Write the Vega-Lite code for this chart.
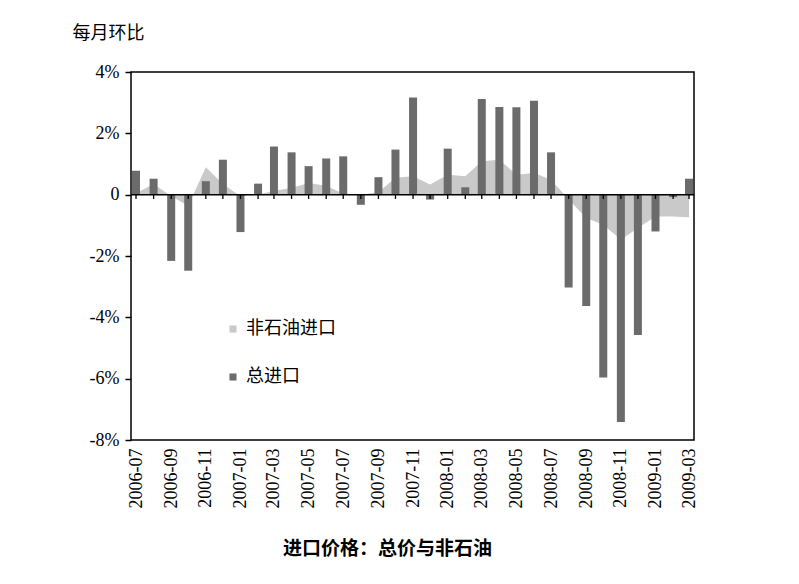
{
  "$schema": "https://vega.github.io/schema/vega-lite/v6.json",
  "width": 563,
  "height": 368,
  "autosize": {"type": "none"},
  "padding": {"left": 131, "top": 72, "right": 105, "bottom": 144},
  "background": "white",
  "view": {"stroke": "black", "strokeWidth": 1.5},
  "data": {
    "values": [
      {"month": "2006-07-01", "series": "总进口", "value": 0.78},
      {"month": "2006-08-01", "series": "总进口", "value": 0.52},
      {"month": "2006-09-01", "series": "总进口", "value": -2.16},
      {"month": "2006-10-01", "series": "总进口", "value": -2.48},
      {"month": "2006-11-01", "series": "总进口", "value": 0.44},
      {"month": "2006-12-01", "series": "总进口", "value": 1.14},
      {"month": "2007-01-01", "series": "总进口", "value": -1.22},
      {"month": "2007-02-01", "series": "总进口", "value": 0.36},
      {"month": "2007-03-01", "series": "总进口", "value": 1.57},
      {"month": "2007-04-01", "series": "总进口", "value": 1.38},
      {"month": "2007-05-01", "series": "总进口", "value": 0.93},
      {"month": "2007-06-01", "series": "总进口", "value": 1.18},
      {"month": "2007-07-01", "series": "总进口", "value": 1.25},
      {"month": "2007-08-01", "series": "总进口", "value": -0.33},
      {"month": "2007-09-01", "series": "总进口", "value": 0.57},
      {"month": "2007-10-01", "series": "总进口", "value": 1.47},
      {"month": "2007-11-01", "series": "总进口", "value": 3.17},
      {"month": "2007-12-01", "series": "总进口", "value": -0.16},
      {"month": "2008-01-01", "series": "总进口", "value": 1.5},
      {"month": "2008-02-01", "series": "总进口", "value": 0.24},
      {"month": "2008-03-01", "series": "总进口", "value": 3.12},
      {"month": "2008-04-01", "series": "总进口", "value": 2.86},
      {"month": "2008-05-01", "series": "总进口", "value": 2.85},
      {"month": "2008-06-01", "series": "总进口", "value": 3.06},
      {"month": "2008-07-01", "series": "总进口", "value": 1.38},
      {"month": "2008-08-01", "series": "总进口", "value": -3.03},
      {"month": "2008-09-01", "series": "总进口", "value": -3.63},
      {"month": "2008-10-01", "series": "总进口", "value": -5.96},
      {"month": "2008-11-01", "series": "总进口", "value": -7.41},
      {"month": "2008-12-01", "series": "总进口", "value": -4.58},
      {"month": "2009-01-01", "series": "总进口", "value": -1.2},
      {"month": "2009-02-01", "series": "总进口", "value": -0.08},
      {"month": "2009-03-01", "series": "总进口", "value": 0.52},
      {"month": "2006-07-01", "series": "非石油进口", "value": 0.05},
      {"month": "2006-08-01", "series": "非石油进口", "value": 0.35},
      {"month": "2006-09-01", "series": "非石油进口", "value": -0.05},
      {"month": "2006-10-01", "series": "非石油进口", "value": -0.36},
      {"month": "2006-11-01", "series": "非石油进口", "value": 0.89},
      {"month": "2006-12-01", "series": "非石油进口", "value": 0.35},
      {"month": "2007-01-01", "series": "非石油进口", "value": -0.05},
      {"month": "2007-02-01", "series": "非石油进口", "value": 0.0},
      {"month": "2007-03-01", "series": "非石油进口", "value": 0.13},
      {"month": "2007-04-01", "series": "非石油进口", "value": 0.22},
      {"month": "2007-05-01", "series": "非石油进口", "value": 0.38},
      {"month": "2007-06-01", "series": "非石油进口", "value": 0.29},
      {"month": "2007-07-01", "series": "非石油进口", "value": 0.03},
      {"month": "2007-08-01", "series": "非石油进口", "value": 0.0},
      {"month": "2007-09-01", "series": "非石油进口", "value": 0.08},
      {"month": "2007-10-01", "series": "非石油进口", "value": 0.55},
      {"month": "2007-11-01", "series": "非石油进口", "value": 0.6},
      {"month": "2007-12-01", "series": "非石油进口", "value": 0.33},
      {"month": "2008-01-01", "series": "非石油进口", "value": 0.65},
      {"month": "2008-02-01", "series": "非石油进口", "value": 0.6},
      {"month": "2008-03-01", "series": "非石油进口", "value": 1.09},
      {"month": "2008-04-01", "series": "非石油进口", "value": 1.14},
      {"month": "2008-05-01", "series": "非石油进口", "value": 0.65},
      {"month": "2008-06-01", "series": "非石油进口", "value": 0.71},
      {"month": "2008-07-01", "series": "非石油进口", "value": 0.49},
      {"month": "2008-08-01", "series": "非石油进口", "value": -0.16},
      {"month": "2008-09-01", "series": "非石油进口", "value": -0.76},
      {"month": "2008-10-01", "series": "非石油进口", "value": -0.98},
      {"month": "2008-11-01", "series": "非石油进口", "value": -1.47},
      {"month": "2008-12-01", "series": "非石油进口", "value": -1.09},
      {"month": "2009-01-01", "series": "非石油进口", "value": -0.71},
      {"month": "2009-02-01", "series": "非石油进口", "value": -0.71},
      {"month": "2009-03-01", "series": "非石油进口", "value": -0.74}
    ]
  },
  "layer": [
    {
      "transform": [{"filter": "datum.series === '非石油进口'"}],
      "mark": {"type": "area", "clip": true},
      "encoding": {
        "x": {
          "field": "month", "type": "temporal",
          "scale": {"type": "utc", "domain": [{"year": 2006, "month": 7, "date": 1, "utc": true}, {"year": 2009, "month": 3, "date": 1, "utc": true}]},
          "axis": {
            "labelExpr": "utcFormat(datum.value, '%Y-%m')",
            "tickCount": {"interval": "month", "step": 2},
            "labelAngle": -90, "labelOverlap": false, "labelFlush": false,
            "labelFont": "Liberation Serif", "labelFontSize": 18, "labelColor": "black", "labelPadding": 8,
            "ticks": false, "domain": false, "grid": false,
            "title": "进口价格：总价与非石油",
            "titleFont": "Noto Sans CJK SC", "titleFontSize": 19, "titleFontWeight": "bold", "titleColor": "black",
            "titleX": 256, "titleY": 108, "titleAlign": "center", "titleBaseline": "middle"
          }
        },
        "y": {
          "field": "value", "type": "quantitative",
          "scale": {"domain": [-8, 4], "nice": false},
          "axis": {
            "values": [-8, -6, -4, -2, 0, 2, 4],
            "labelExpr": "datum.value === 0 ? '0' : datum.value + '%'",
            "grid": false, "domain": false, "tickSize": 6, "tickColor": "black", "tickWidth": 1.5,
            "labelFont": "Liberation Serif", "labelFontSize": 18, "labelColor": "black", "labelPadding": 6,
            "title": "每月环比", "titleAngle": 0, "titleX": -59, "titleY": -39,
            "titleAlign": "left", "titleBaseline": "middle",
            "titleFont": "Noto Sans CJK SC", "titleFontSize": 18, "titleFontWeight": "normal", "titleColor": "black"
          }
        },
        "color": {
          "field": "series", "type": "nominal",
          "scale": {"domain": ["非石油进口", "总进口"], "range": ["#c9c9c9", "#6b6b6b"]},
          "legend": {
            "orient": "none", "legendX": 93, "legendY": 248, "title": null,
            "symbolType": "square", "symbolSize": 50, "symbolStrokeWidth": 0,
            "labelFont": "Noto Sans CJK SC", "labelFontSize": 18, "labelColor": "black",
            "labelOffset": 4, "rowPadding": 30
          }
        }
      }
    },
    {
      "transform": [{"filter": "datum.series === '总进口'"}],
      "mark": {"type": "bar", "size": 8, "clip": true},
      "encoding": {
        "x": {"field": "month", "type": "temporal"},
        "y": {"field": "value", "type": "quantitative"},
        "color": {"field": "series", "type": "nominal"}
      }
    },
    {
      "data": {"values": [{}]},
      "mark": {"type": "rule", "color": "black", "strokeWidth": 1.5},
      "encoding": {"y": {"datum": 0}}
    },
    {
      "transform": [{"filter": "datum.series === '总进口'"}],
      "mark": {"type": "rule", "color": "black", "strokeWidth": 1.3},
      "encoding": {
        "x": {"field": "month", "type": "temporal"},
        "y": {"datum": 0},
        "y2": {"datum": -0.14}
      }
    }
  ]
}
